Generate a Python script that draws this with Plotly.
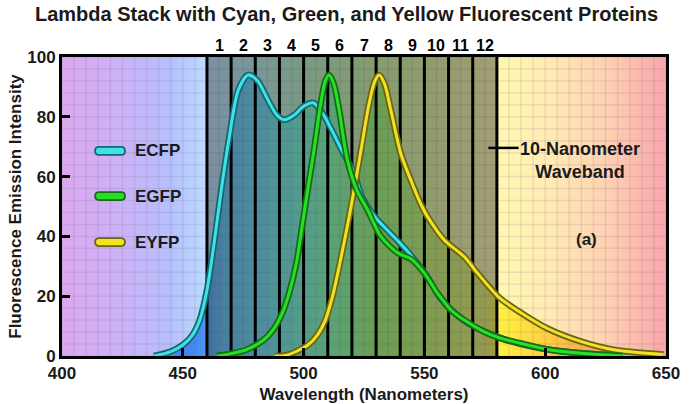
import plotly.graph_objects as go

# ---------------- data ----------------
ecfp_wavelength = [438, 445, 450, 454, 457, 460, 463, 466, 469, 473, 477, 481, 485, 489, 492, 496, 500, 504,
                   508, 512, 516, 521, 524, 529, 536, 543, 548, 552, 556, 561, 567, 575, 582, 590, 601,
                   615, 630, 645]
ecfp_intensity = [0, 1.5, 3.7, 7, 12, 22, 38, 56, 72, 89, 94, 92, 86, 80.5, 79, 80.5, 83.5, 84.7,
                  81, 75, 68.5, 61, 53.5, 47, 41, 35, 30, 25.5, 20, 15.4, 11.5, 8.1, 5.9, 4.0, 2.2,
                  0.9, 0.2, 0]

egfp_wavelength = [464, 470, 476, 481, 485, 488, 491, 494, 497, 499.5, 502, 504.5, 507, 509, 510.5, 512.5,
                   514.7, 518.1, 522.3, 526.4, 532, 538.9, 544.4, 550, 555.4, 561, 566.5, 574.8, 581.7,
                   590, 601, 615, 632]
egfp_intensity = [0, 0.8, 2, 4, 6.5, 9.5, 14, 21, 31, 44, 57, 70, 84, 92, 94, 91,
                  82.3, 65.6, 55, 49, 40, 34.5, 32.5, 27.7, 21, 15.4, 12, 8.1, 5.9,
                  4.2, 2.2, 0.9, 0]

eyfp_wavelength = [488, 493, 501.5, 505.7, 509, 512, 515, 518, 521, 524, 527, 529.5, 531.3, 533.5, 536.1,
                   540.2, 545.8, 549, 551.3, 558.2, 566.5, 572, 581, 588, 601, 615, 629, 649]
eyfp_intensity = [0, 0.3, 3.5, 7, 12, 20, 31, 43, 56, 70, 84, 92, 94, 91, 82.3,
                  67.8, 56, 50, 46.6, 38.8, 33.2, 27.7, 19.5, 15.5, 9.2, 4.8, 2, 0.5]

band_edges = [460, 470, 480, 490, 500, 510, 520, 530, 540, 550, 560, 570, 580]
band_labels = ["1", "2", "3", "4", "5", "6", "7", "8", "9", "10", "11", "12"]

x_ticks = [400, 450, 500, 550, 600, 650]
y_ticks = [0, 20, 40, 60, 80, 100]
x_range = [400, 650]
y_range = [0, 100]

series = [
    # name, x, y, outline colour, core colour
    ("ECFP", ecfp_wavelength, ecfp_intensity, "#17666c", "#3fe2ea"),
    ("EYFP", eyfp_wavelength, eyfp_intensity, "#6b6412", "#f2e226"),
    ("EGFP", egfp_wavelength, egfp_intensity, "#176b17", "#26e026"),
]
legend_order = ["ECFP", "EGFP", "EYFP"]

# ---------------- styles ----------------
FONT = "Liberation Sans, Arial, sans-serif"
x0, x1 = x_range
y0, y1 = y_range

def frac(w):
    return (w - x0) / (x1 - x0)

pastel = [[frac(w), c] for w, c in [
    (400, "#dca8ee"), (425, "#ccb2f8"), (445, "#b6c0fc"), (460, "#bcdcff"), (475, "#b4ecf4"),
    (500, "#b8f0c8"), (525, "#c8f4a8"), (555, "#e4f4a0"), (580, "#fff8b0"), (600, "#ffecb4"),
    (625, "#ffd2b2"), (650, "#f8a6aa")]]
vivid = [[frac(w), c] for w, c in [
    (400, "#a080f0"), (440, "#7c84f4"), (450, "#4080f4"), (458, "#4a90f6"), (465, "#60c0fa"),
    (480, "#69d8fb"), (495, "#70f0e0"), (510, "#80ffb8"), (530, "#9cf977"), (555, "#c8f470"),
    (575, "#e8f070"), (581, "#fff040"), (600, "#ffd040"), (615, "#fcb050"), (630, "#f8a070"),
    (650, "#f4a0a0")]]

fig = go.Figure()

# pastel spectrum background
fig.add_trace(go.Scatter(
    x=[x0, x1, x1, x0, x0], y=[y0, y0, y1, y1, y0], mode="lines", line=dict(width=0),
    fill="toself", fillgradient=dict(type="horizontal", colorscale=pastel, start=x0, stop=x1),
    hoverinfo="skip", showlegend=False))

# vivid spectrum under each emission curve
for name, xs, ys, dark, bright in series:
    fig.add_trace(go.Scatter(
        x=xs, y=ys, mode="lines", line=dict(width=0, shape="spline", smoothing=0.8),
        fill="tozeroy", fillgradient=dict(type="horizontal", colorscale=vivid, start=x0, stop=x1),
        hoverinfo="skip", showlegend=False))

# faint tile grid
gx, gy = [], []
for w in range(x0, x1 + 1, 5):
    gx += [w, w, None]
    gy += [y0, y1, None]
for v in range(y0, y1 + 1, 4):
    gx += [x0, x1, None]
    gy += [v, v, None]
fig.add_trace(go.Scatter(x=gx, y=gy, mode="lines", line=dict(color="rgba(90,90,130,0.13)", width=1.5),
                         hoverinfo="skip", showlegend=False))

# darkened lambda-stack region
b0, b1 = band_edges[0], band_edges[-1]
fig.add_trace(go.Scatter(
    x=[b0, b1, b1, b0, b0], y=[y0, y0, y1, y1, y0], mode="lines", line=dict(width=0),
    fill="toself", fillcolor="rgba(40,40,40,0.43)", hoverinfo="skip", showlegend=False))

# waveband dividers
lx, ly = [], []
for e in band_edges:
    lx += [e, e, None]
    ly += [y0, y1, None]
fig.add_trace(go.Scatter(x=lx, y=ly, mode="lines", line=dict(color="black", width=3),
                         hoverinfo="skip", showlegend=False))

# emission curves (dark outline + bright core)
for name, xs, ys, dark, bright in series:
    fig.add_trace(go.Scatter(x=xs, y=ys, mode="lines",
                             line=dict(color=dark, width=6.5, shape="spline", smoothing=0.8),
                             hoverinfo="skip", showlegend=False))
    fig.add_trace(go.Scatter(x=xs, y=ys, mode="lines", name=name,
                             line=dict(color=bright, width=3, shape="spline", smoothing=0.8),
                             showlegend=False))

annotations = []
shapes = []

# band numbers
for i, lab in enumerate(band_labels):
    annotations.append(dict(x=(band_edges[i] + band_edges[i + 1]) / 2, y=y1, yanchor="bottom", yshift=1,
                            text=lab, showarrow=False,
                            font=dict(family=FONT, size=16, color="black", weight="bold")))

# custom legend
colours = {n: (d, b) for n, _, _, d, b in series}
legend_y = {"ECFP": 68.6, "EGFP": 53.5, "EYFP": 38.1}
pill = "M -11,-4 L 11,-4 C 16.3,-4 16.3,4 11,4 L -11,4 C -16.3,4 -16.3,-4 -11,-4 Z"
for n in legend_order:
    d, b = colours[n]
    shapes.append(dict(type="path", xref="x", yref="y", xsizemode="pixel", ysizemode="pixel",
                       xanchor=419.9, yanchor=legend_y[n], path=pill,
                       fillcolor=b, line=dict(color=d, width=1.8), layer="above"))
    annotations.append(dict(x=429.3, y=legend_y[n], xanchor="left", yanchor="middle", text=n,
                            showarrow=False,
                            font=dict(family=FONT, size=17, color="#1a1a1a", weight="bold")))

# waveband pointer
shapes.append(dict(type="line", xref="x", yref="y", x0=576.5, x1=589.0, y0=69.6, y1=69.6,
                   line=dict(color="black", width=2.5), layer="above"))
annotations.append(dict(x=614.3, y=69.6, yanchor="top", yshift=11, text="10-Nanometer<br>Waveband",
                        showarrow=False, align="center",
                        font=dict(family=FONT, size=18, color="#1a1a1a", weight="bold")))
annotations.append(dict(x=617, y=38.8, text="(a)", showarrow=False,
                        font=dict(family=FONT, size=17, color="#1a1a1a", weight="bold")))

axis_font = dict(family=FONT, size=17, color="#1a1a1a", weight="bold")
title_font = dict(family=FONT, size=17, color="#1a1a1a", weight="bold")

fig.update_layout(
    width=693, height=404,
    margin=dict(l=62, r=27, t=57, b=48),
    paper_bgcolor="white", plot_bgcolor="white",
    title=dict(text="Lambda Stack with Cyan, Green, and Yellow Fluorescent Proteins",
               x=0.5, xanchor="center", y=1 - 14 / 404, yanchor="middle", yref="container",
               font=dict(family=FONT, size=20, color="#1a1a1a", weight="bold")),
    xaxis=dict(range=x_range, tickvals=x_ticks, ticks="inside", ticklen=8, tickwidth=2.5,
               tickcolor="black", showline=True, linewidth=3, linecolor="black", mirror=True,
               showgrid=False, zeroline=False, tickfont=axis_font, automargin=False,
               title=dict(text="Wavelength (Nanometers)", font=title_font, standoff=8)),
    yaxis=dict(range=y_range, tickvals=y_ticks, ticks="inside", ticklen=8, tickwidth=2.5,
               tickcolor="black", showline=True, linewidth=3, linecolor="black", mirror=True,
               showgrid=False, zeroline=False, tickfont=axis_font, automargin=False,
               title=dict(text="Fluorescence Emission Intensity", font=title_font, standoff=2)),
    annotations=annotations, shapes=shapes,
    showlegend=False,
)

fig.write_html("out.html")
